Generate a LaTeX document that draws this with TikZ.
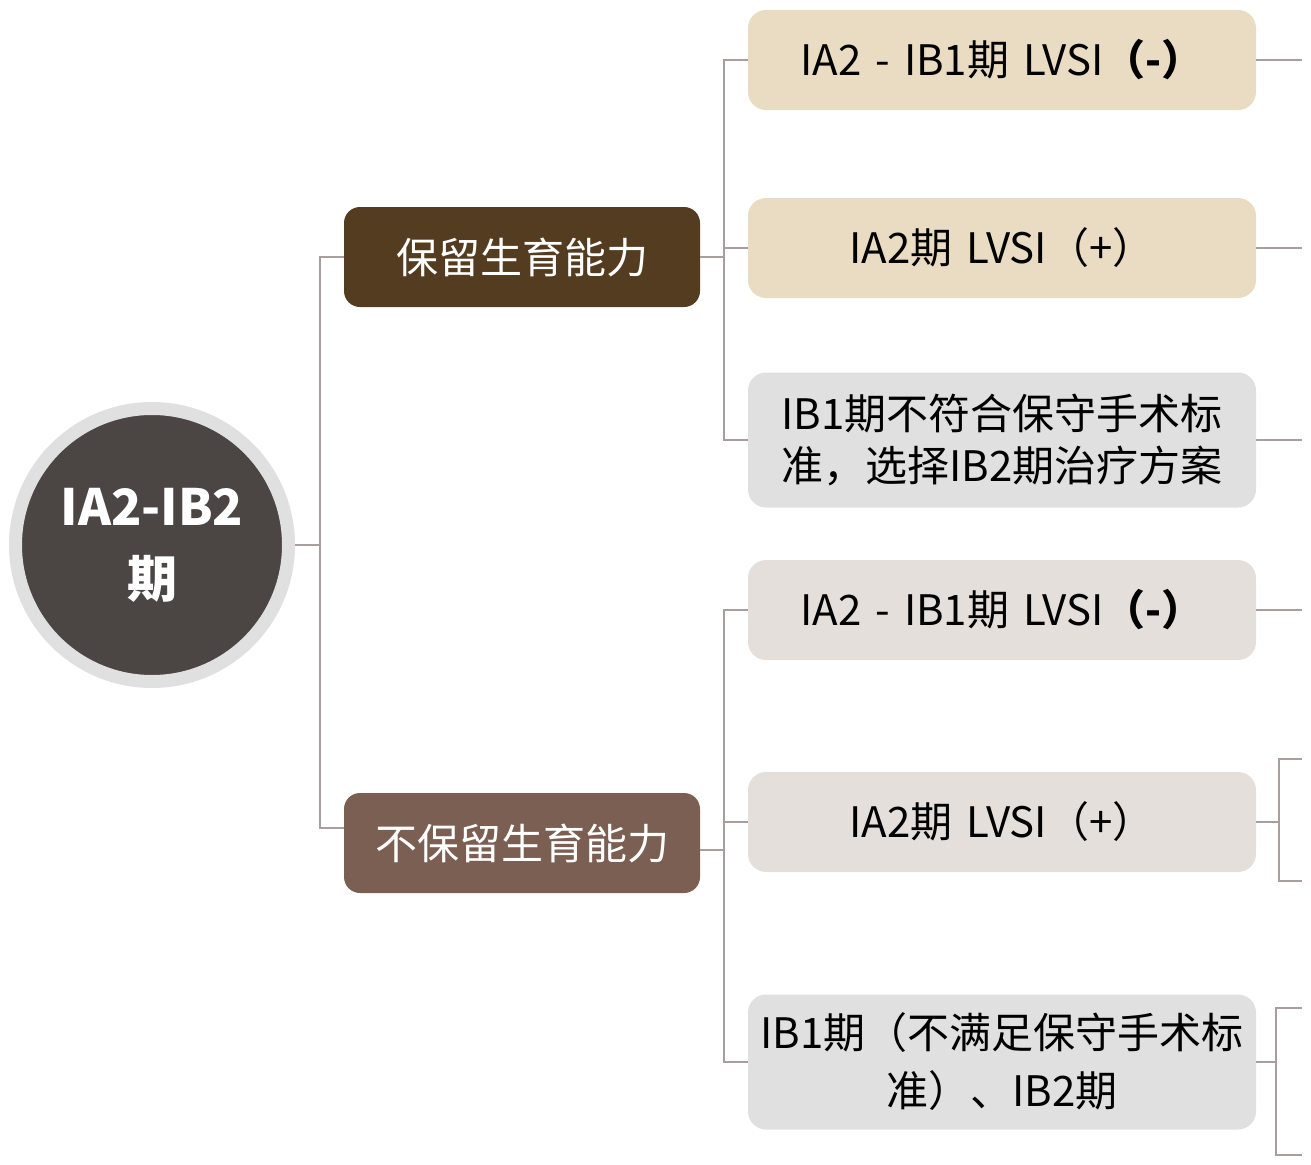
\documentclass[tikz,border=0pt]{standalone}
\usepackage{fontspec}
\setmainfont{Noto Sans CJK SC}
\usepackage{tikz}

\definecolor{rootdark}{HTML}{4B4544}
\definecolor{ringgray}{HTML}{E0E0E0}
\definecolor{keepbrown}{HTML}{533C1F}
\definecolor{nokeepbrown}{HTML}{7B5F52}
\definecolor{beige}{HTML}{EADCC2}
\definecolor{greige}{HTML}{E4DFDB}
\definecolor{palegray}{HTML}{E0E0E0}
\definecolor{linkgray}{HTML}{A89E9E}

\tikzset{
  midbox/.style={rounded corners=16pt, minimum width=356pt, minimum height=100pt,
    inner sep=0pt, text=white, font=\fontsize{42}{50}\selectfont},
  leafbox/.style={rounded corners=18pt, minimum width=508pt, minimum height=100pt,
    text width=490pt, align=center, inner sep=0pt, font=\fontsize{42}{52}\selectfont},
  link/.style={draw=linkgray, line width=1.6pt}
}

\begin{document}
\begin{tikzpicture}[x=1pt,y=-1pt]
\useasboundingbox (0,0) rectangle (1311,1164);

% root
\node[circle, fill=rootdark, draw=ringgray, line width=13pt, minimum size=273pt,
  text=white, align=center, font=\bfseries\fontsize{50}{72}\selectfont] (root) at (152,545) {IA2-IB2\\期};

% second level
\node[midbox, fill=keepbrown] (keep) at (522,257) {保留生育能力};
\node[midbox, fill=nokeepbrown] (nokeep) at (522,843) {不保留生育能力};

% leaves
\node[leafbox, fill=beige] (ka) at (1002,60) {IA2 - IB1期 LVSI{\bfseries（-）}};
\node[leafbox, fill=beige] (kb) at (1002,248) {IA2期 LVSI（+）};
\node[leafbox, fill=palegray, minimum height=135pt] (kc) at (1002,440) {IB1期不符合保守手术标\\准，选择IB2期治疗方案};
\node[leafbox, fill=greige] (na) at (1002,610) {IA2 - IB1期 LVSI{\bfseries（-）}};
\node[leafbox, fill=greige] (nb) at (1002,822) {IA2期 LVSI（+）};
\node[leafbox, fill=palegray, minimum height=135pt, font=\fontsize{42}{58}\selectfont] (nc) at (1002,1062) {IB1期（不满足保守手术标\\准）、IB2期};

% free ends on the right
\coordinate (kaend) at (1302,60);
\coordinate (kbend) at (1302,248);
\coordinate (kcend) at (1302,440);
\coordinate (naend) at (1302,610);
\coordinate (nbup) at (1302,759);
\coordinate (nbdown) at (1302,881);
\coordinate (ncup) at (1302,1008);
\coordinate (ncdown) at (1302,1155);

% connectors
\draw[link] (root.east) -- (320,545) |- (keep.west);
\draw[link] (320,545) |- ([yshift=15pt]nokeep.west);
\draw[link] (keep.east) -- (724,257) |- (ka.west);
\draw[link] (724,257) |- (kb.west);
\draw[link] (724,257) |- (kc.west);
\draw[link] ([yshift=-7pt]nokeep.east) -- (724,850) |- (na.west);
\draw[link] (724,850) |- (nb.west);
\draw[link] (724,850) |- (nc.west);
\draw[link] (ka.east) -- (kaend);
\draw[link] (kb.east) -- (kbend);
\draw[link] (kc.east) -- (kcend);
\draw[link] (na.east) -- (naend);
\draw[link] (nb.east) -- (1279,822) |- (nbup);
\draw[link] (1279,822) |- (nbdown);
\draw[link] (nc.east) -- (1276,1062) |- (ncup);
\draw[link] (1276,1062) |- (ncdown);
\end{tikzpicture}
\end{document}
